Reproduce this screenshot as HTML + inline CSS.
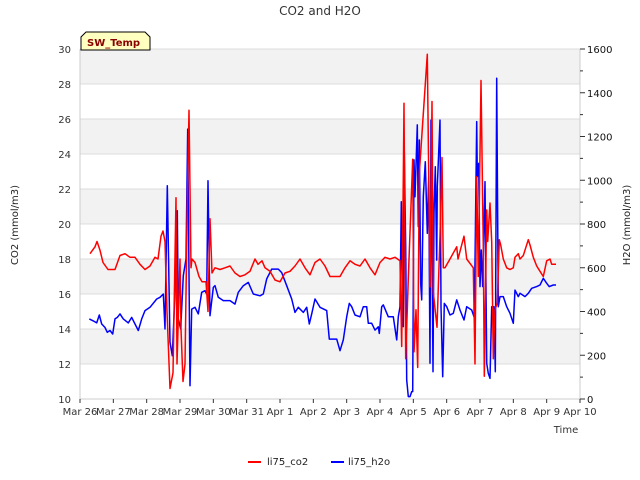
<!DOCTYPE html>
<html><head><meta charset="utf-8"><style>
body{margin:0;background:#fff}
svg{display:block;font-family:"DejaVu Sans","Liberation Sans",sans-serif}
</style></head><body>
<svg id="c" width="640" height="480" xmlns="http://www.w3.org/2000/svg"></svg>
<script>
const xTickLabels=["Mar 26","Mar 27","Mar 28","Mar 29","Mar 30","Mar 31","Apr 1","Apr 2","Apr 3","Apr 4","Apr 5","Apr 6","Apr 7","Apr 8","Apr 9","Apr 10"];
const co2Ticks=[10,12,14,16,18,20,22,24,26,28,30];
const h2oTicks=[0,200,400,600,800,1000,1200,1400,1600];
const co2Days=[0.30,0.45,0.51,0.60,0.69,0.84,1.05,1.20,1.35,1.50,1.65,1.80,1.95,2.10,2.25,2.34,2.43,2.49,2.55,2.61,2.70,2.79,2.88,2.91,3.00,3.03,3.09,3.15,3.21,3.27,3.33,3.36,3.45,3.57,3.66,3.78,3.84,3.90,3.96,4.05,4.20,4.35,4.50,4.65,4.80,4.95,5.10,5.25,5.34,5.46,5.55,5.70,5.85,6.00,6.15,6.30,6.45,6.60,6.75,6.90,7.05,7.20,7.35,7.50,7.80,7.95,8.10,8.25,8.40,8.55,8.70,8.85,9.00,9.15,9.30,9.45,9.60,9.65,9.72,9.77,9.85,9.98,10.02,10.08,10.13,10.18,10.42,10.50,10.56,10.60,10.71,10.80,10.86,10.90,10.95,11.10,11.30,11.34,11.52,11.60,11.80,11.85,11.90,11.95,12.03,12.10,12.13,12.20,12.23,12.30,12.35,12.40,12.45,12.52,12.58,12.62,12.70,12.80,12.90,13.00,13.05,13.15,13.20,13.30,13.45,13.50,13.60,13.70,13.80,13.90,14.00,14.10,14.15,14.28];
const co2Vals=[18.3,18.7,19.0,18.5,17.8,17.4,17.4,18.2,18.3,18.1,18.1,17.7,17.4,17.6,18.1,18.0,19.3,19.6,19.0,15,10.6,11.5,21.5,12,18,14,11,12,20,26.5,17.5,18,17.8,17,16.7,16.7,15,20.3,17.2,17.5,17.4,17.5,17.6,17.2,17.0,17.1,17.3,18.0,17.7,17.9,17.5,17.3,16.8,16.7,17.2,17.3,17.6,18.0,17.5,17.1,17.8,18.0,17.6,17.0,17.0,17.5,17.9,17.7,17.6,18.0,17.5,17.1,17.8,18.1,18.0,18.1,17.9,13.0,26.9,12.3,16.9,23.7,12.7,15.1,11.8,22.9,29.7,16.4,27.0,16.1,14.1,19.3,23.8,17.5,17.5,18.0,18.7,18.0,19.3,18.0,17.5,12.0,22.7,17.0,28.2,18.7,11.3,20.8,19,21.2,19,12.3,15.1,15.5,19.1,18.8,18.0,17.5,17.4,17.5,18.1,18.3,18.0,18.2,19.1,18.8,18.1,17.6,17.3,17.0,17.9,18.0,17.7,17.7];
const h2oDays=[0.28,0.40,0.50,0.58,0.65,0.75,0.82,0.90,0.98,1.05,1.12,1.20,1.30,1.45,1.55,1.65,1.75,1.85,1.95,2.10,2.30,2.40,2.50,2.55,2.62,2.70,2.77,2.85,2.92,2.95,3.02,3.10,3.18,3.23,3.30,3.35,3.45,3.55,3.65,3.75,3.80,3.84,3.90,4.00,4.05,4.15,4.30,4.50,4.65,4.75,4.90,5.05,5.20,5.40,5.50,5.60,5.75,5.95,6.05,6.20,6.35,6.45,6.55,6.70,6.80,6.88,6.95,7.05,7.20,7.40,7.48,7.70,7.80,7.90,8.00,8.08,8.15,8.25,8.40,8.50,8.60,8.65,8.75,8.85,8.95,8.98,9.05,9.10,9.25,9.40,9.50,9.55,9.60,9.64,9.67,9.70,9.73,9.77,9.80,9.85,9.90,9.95,9.98,10.02,10.05,10.12,10.15,10.18,10.22,10.25,10.30,10.36,10.42,10.46,10.50,10.53,10.59,10.62,10.66,10.70,10.72,10.80,10.83,10.88,10.93,11.00,11.10,11.20,11.30,11.40,11.52,11.60,11.75,11.82,11.85,11.90,11.92,11.96,12.00,12.04,12.08,12.12,12.15,12.20,12.25,12.30,12.35,12.42,12.46,12.50,12.55,12.60,12.70,12.80,12.90,13.00,13.05,13.15,13.20,13.35,13.45,13.55,13.70,13.80,13.90,14.00,14.08,14.20,14.28];
const h2oVals=[366,357,348,384,343,327,305,313,297,366,373,389,366,348,373,343,313,366,404,419,457,465,480,320,975,259,198,488,861,366,320,564,640,1234,61,411,419,389,488,495,480,998,381,510,518,465,450,450,434,488,518,533,480,472,480,549,594,594,578,518,457,396,419,396,419,343,389,457,419,404,274,274,221,270,376,437,422,384,376,422,422,346,346,315,330,300,422,430,376,376,270,376,422,902,529,330,1131,696,87,11,11,34,34,1093,925,1253,788,1184,529,453,925,1085,757,1016,163,1275,125,849,1062,635,971,1275,422,102,437,422,384,392,453,407,361,422,407,376,620,1268,1016,1077,514,681,514,773,994,163,117,94,422,422,125,1466,422,468,468,422,392,346,498,468,483,468,483,506,514,521,552,529,514,521,521];

const L=80,R=580,T=49,B=399;
const X=d=>L+(R-L)*d/15;
const YL=v=>B-(B-T)*(v-10)/20;
const YR=v=>B-(B-T)*v/1600;
const svg=document.getElementById('c');
const NS="http://www.w3.org/2000/svg";
function mk(tag,attrs,parent){const e=document.createElementNS(NS,tag);for(const k in attrs)e.setAttribute(k,attrs[k]);(parent||svg).appendChild(e);return e;}

for(let v=12;v<30;v+=4){const b=mk('rect',{x:L,y:YL(v+2),width:R-L,height:YL(v)-YL(v+2),fill:'#f2f2f2'});

}
co2Ticks.forEach(v=>{const g=mk('line',{x1:L,x2:R,y1:YL(v),y2:YL(v),stroke:'#dcdcdc','stroke-width':1});


const t=mk('text',{x:71,y:YL(v)+4,'text-anchor':'end','font-size':10,fill:'#333'});t.textContent=v;

});
mk('line',{x1:L,x2:L,y1:T,y2:B,stroke:'#cccccc'});
mk('line',{x1:R,x2:R,y1:T,y2:B,stroke:'#cccccc'});
mk('line',{x1:L,x2:R,y1:B,y2:B,stroke:'#cccccc'});
for(let v=0;v<=1600;v+=100){mk('line',{x1:R,x2:R+(v%200?3:5),y1:YR(v),y2:YR(v),stroke:'#333'});}
h2oTicks.forEach(v=>{const t=mk('text',{x:587,y:YR(v)+4,'font-size':10,fill:'#111'});t.textContent=v;

});
xTickLabels.forEach((s,i)=>{mk('line',{x1:X(i),x2:X(i),y1:B,y2:B+4,stroke:'#333'});
const t=mk('text',{x:X(i),y:415,'text-anchor':'middle','font-size':10,fill:'#333'});t.textContent=s;

});

function line(days,vals,Y,color,name){const d=days.map((t,i)=>(i?'L':'M')+X(t).toFixed(1)+','+Y(vals[i]).toFixed(1)).join('');
const p=mk('path',{d:d,fill:'none',stroke:color,'stroke-width':1.5,'stroke-linejoin':'round'});

}
line(h2oDays,h2oVals,YR,'#0000ff','h2o-series');
line(co2Days,co2Vals,YL,'#ff0000','co2-series');
</script>
<div style="position:absolute;left:0;top:0;width:640px;height:480px;pointer-events:none">
<svg width="640" height="480">
<text x="320" y="15" text-anchor="middle" font-size="12" fill="#333">CO2 and H2O</text>
<text transform="translate(18,225) rotate(-90)" text-anchor="middle" font-size="10" fill="#222">CO2 (mmol/m3)</text>
<text transform="translate(630,225) rotate(-90)" text-anchor="middle" font-size="10" fill="#222">H2O (mmol/m3)</text>
<text x="566" y="433" text-anchor="middle" font-size="10" fill="#333">Time</text>
<g>
<path d="M81,50 L81,37 L86,32 L145,32 L150,37 L150,50 Z" fill="#ffffc0" stroke="#000" stroke-width="1"/>
<text x="87" y="46" font-size="10" font-weight="bold" fill="#8b0000">SW_Temp</text></g>
<g>
<line x1="248" x2="261" y1="462" y2="462" stroke="#ff0000" stroke-width="2"/>
<text x="267" y="465" font-size="10" fill="#222">li75_co2</text>
<line x1="331" x2="344" y1="462" y2="462" stroke="#0000ff" stroke-width="2"/>
<text x="348" y="465" font-size="10" fill="#222">li75_h2o</text></g>
</svg></div>
</body></html>
